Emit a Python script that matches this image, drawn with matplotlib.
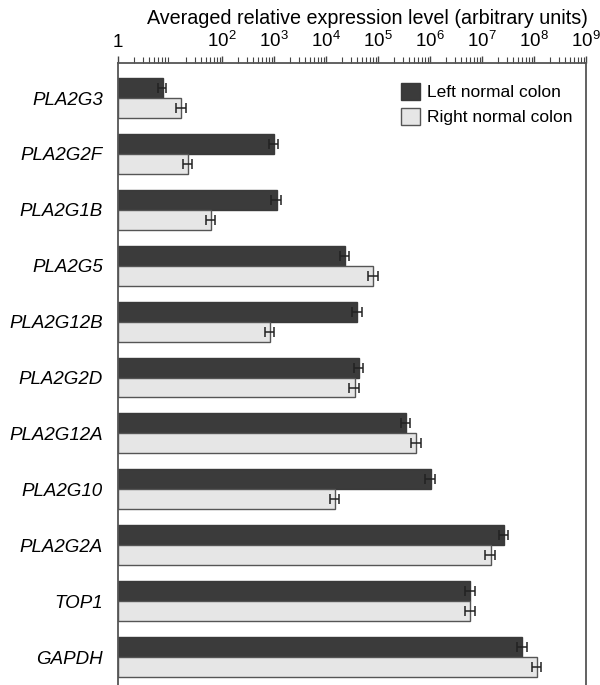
import matplotlib
matplotlib.use("Agg")
import matplotlib.pyplot as plt
import numpy as np

plt.rcParams['font.family'] = ['Liberation Sans', 'DejaVu Sans']
plt.rcParams['mathtext.fontset'] = 'custom'
plt.rcParams['mathtext.rm'] = 'Liberation Sans'
plt.rcParams['mathtext.it'] = 'Liberation Sans:italic'

genes = ["PLA2G3", "PLA2G2F", "PLA2G1B", "PLA2G5", "PLA2G12B", "PLA2G2D",
         "PLA2G12A", "PLA2G10", "PLA2G2A", "TOP1", "GAPDH"]
left_vals = [6.2, 1000, 1130, 23000, 40000, 43000, 346000, 1.03e6, 2.65e7, 6.0e6, 6.0e7]
right_vals = [15.6, 21, 60, 81000, 840, 35500, 547000, 14900, 1.47e7, 6.0e6, 1.15e8]
left_err = [1.3, 210, 240, 4800, 8400, 9000, 72000, 2.2e5, 5.5e6, 1.25e6, 1.25e7]
right_err = [3.3, 4.4, 12.5, 17000, 175, 7400, 115000, 3100, 3.1e6, 1.25e6, 2.4e7]
tick_vals = [1, 1e2, 1e3, 1e4, 1e5, 1e6, 1e7, 1e8, 1e9]
tick_labels = ["1", r"$10^2$", r"$10^3$", r"$10^4$", r"$10^5$", r"$10^6$",
               r"$10^7$", r"$10^8$", r"$10^9$"]

fig = plt.figure(figsize=(6.0, 6.85), dpi=100)
ax = fig.add_axes([0.1967, 0.0, 0.78, 0.908])

y = np.arange(len(genes))
h = 0.357
dark = "#3b3b3b"
light = "#e6e6e6"
edge = "#3a3a3a"

ekw = dict(ecolor="#222222", elinewidth=1.1, capsize=3.5, capthick=1.1)
ax.barh(y - h / 2, left_vals, height=h, left=1, color=dark, edgecolor=edge,
        linewidth=1.0, label="Left normal colon", xerr=left_err, error_kw=ekw)
ax.barh(y + h / 2, right_vals, height=h, left=1, color=light, edgecolor="#555555",
        linewidth=1.0, label="Right normal colon", xerr=right_err, error_kw=ekw)

ax.set_xscale("log")
ax.set_xlim(1, 1e9)
ax.set_ylim(10.5, -0.626)

ax.xaxis.tick_top()
ax.xaxis.set_label_position("top")
ax.set_xticks(tick_vals)
ax.set_xticklabels(tick_labels, fontsize=13.5)
ax.xaxis.set_minor_locator(matplotlib.ticker.LogLocator(base=10, subs=np.arange(2, 10), numticks=20))
ax.tick_params(axis="x", which="major", direction="out", length=5, width=1, color="#444444", pad=4)
ax.tick_params(axis="x", which="minor", direction="out", length=4, width=0.8, color="#444444")
ax.set_xlabel("Averaged relative expression level (arbitrary units)", fontsize=14.2)
ax.xaxis.set_label_coords(0.533, 1.062)

ax.set_yticks(y)
ax.set_yticklabels(genes, fontsize=13.5, style="italic")
ax.tick_params(axis="y", length=0, pad=11)

for s in ["left", "right", "top"]:
    ax.spines[s].set_color("#555555")
    ax.spines[s].set_linewidth(1.3)
ax.spines["bottom"].set_visible(False)

leg = ax.legend(loc="upper right", bbox_to_anchor=(1.0, 0.99), frameon=False, fontsize=12.5,
                handlelength=1.1, handleheight=1.1, handletextpad=0.4, labelspacing=0.45,
                borderaxespad=0.4)

fig.savefig("out.png", dpi=100)
